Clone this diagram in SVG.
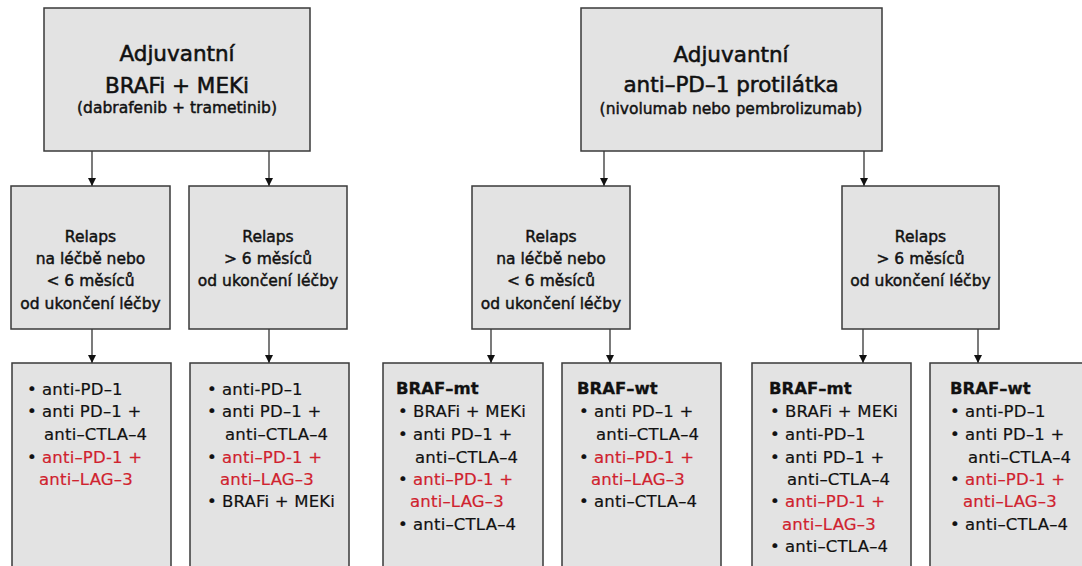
<svg xmlns="http://www.w3.org/2000/svg" width="1082" height="566" viewBox="0 0 1082 566">
<style>
.box{fill:#e3e3e3;stroke:#3a3a3a;stroke-width:1.5}
text{font-family:"DejaVu Sans","Liberation Sans",sans-serif;fill:#111}
.t1{font-size:21.5px;text-anchor:middle;stroke:#111;stroke-width:0.55}
.t2{font-size:15.5px;text-anchor:middle;stroke:#111;stroke-width:0.45}
.r2{font-size:15.5px;text-anchor:middle;stroke:#111;stroke-width:0.45}
.b{font-size:16.5px;stroke:#111;stroke-width:0.2;letter-spacing:0.2px}
.red{fill:#d0222e;stroke:#d0222e}
.h{font-size:16.5px;font-weight:bold;stroke:#111;stroke-width:0.3}
.conn{stroke:#222;stroke-width:1.2;fill:none}
</style>
<defs>
<marker id="ah" markerUnits="userSpaceOnUse" markerWidth="8" markerHeight="9" refX="8" refY="4" orient="auto" viewBox="0 0 8 8">
<path d="M0,0 L8,4 L0,8 z" fill="#111"/>
</marker>
</defs>

<g id="connectors">
<line class="conn" x1="92" y1="151" x2="92" y2="186" marker-end="url(#ah)"/>
<line class="conn" x1="269" y1="151" x2="269" y2="186" marker-end="url(#ah)"/>
<line class="conn" x1="604" y1="151" x2="604" y2="186" marker-end="url(#ah)"/>
<line class="conn" x1="864" y1="151" x2="864" y2="186" marker-end="url(#ah)"/>
<line class="conn" x1="92" y1="329" x2="92" y2="363" marker-end="url(#ah)"/>
<line class="conn" x1="269" y1="329" x2="269" y2="363" marker-end="url(#ah)"/>
<line class="conn" x1="491" y1="329" x2="491" y2="363" marker-end="url(#ah)"/>
<line class="conn" x1="610" y1="329" x2="610" y2="363" marker-end="url(#ah)"/>
<line class="conn" x1="863" y1="329" x2="863" y2="363" marker-end="url(#ah)"/>
<line class="conn" x1="978" y1="329" x2="978" y2="363" marker-end="url(#ah)"/>
</g>

<g id="top-left">
<rect class="box" x="44" y="8" width="266" height="143"/>
<text class="t1" x="177" y="61">Adjuvantní</text>
<text class="t1" x="177" y="93">BRAFi + MEKi</text>
<text class="t2" x="177" y="113">(dabrafenib + trametinib)</text>
</g>

<g id="top-right">
<rect class="box" x="581" y="8" width="301" height="143"/>
<text class="t1" x="731" y="62">Adjuvantní</text>
<text class="t1" x="731" y="92">anti–PD–1 protilátka</text>
<text class="t2" x="731" y="114">(nivolumab nebo pembrolizumab)</text>
</g>

<g id="relaps-1">
<rect class="box" x="11" y="186" width="159" height="143"/>
<text class="r2" x="90.5" y="242">Relaps</text>
<text class="r2" x="90.5" y="264">na léčbě nebo</text>
<text class="r2" x="90.5" y="286">&lt; 6 měsíců</text>
<text class="r2" x="90.5" y="309">od ukončení léčby</text>
</g>

<g id="relaps-2">
<rect class="box" x="189" y="186" width="158" height="143"/>
<text class="r2" x="268" y="242">Relaps</text>
<text class="r2" x="268" y="264">&gt; 6 měsíců</text>
<text class="r2" x="268" y="286">od ukončení léčby</text>
</g>

<g id="relaps-3">
<rect class="box" x="472" y="186" width="158" height="143"/>
<text class="r2" x="551" y="242">Relaps</text>
<text class="r2" x="551" y="264">na léčbě nebo</text>
<text class="r2" x="551" y="286">&lt; 6 měsíců</text>
<text class="r2" x="551" y="309">od ukončení léčby</text>
</g>

<g id="relaps-4">
<rect class="box" x="842" y="186" width="157" height="143"/>
<text class="r2" x="920.5" y="242">Relaps</text>
<text class="r2" x="920.5" y="264">&gt; 6 měsíců</text>
<text class="r2" x="920.5" y="286">od ukončení léčby</text>
</g>

<g id="therapy-a">
<rect class="box" x="12" y="363" width="159" height="220"/>
<text class="b" x="27" y="395">•</text><text class="b" x="42" y="395">anti-PD–1</text>
<text class="b" x="27" y="417">•</text><text class="b" x="42" y="417">anti PD–1 +</text>
<text class="b" x="44" y="440">anti–CTLA–4</text>
<text class="b" x="27" y="463">•</text><text class="b red" x="42" y="463">anti–PD-1 +</text>
<text class="b red" x="39" y="485">anti–LAG–3</text>
</g>

<g id="therapy-b">
<rect class="box" x="190" y="363" width="159" height="220"/>
<text class="b" x="207" y="395">•</text><text class="b" x="222" y="395">anti-PD–1</text>
<text class="b" x="207" y="417">•</text><text class="b" x="222" y="417">anti PD–1 +</text>
<text class="b" x="225" y="440">anti–CTLA–4</text>
<text class="b" x="207" y="463">•</text><text class="b red" x="222" y="463">anti–PD-1 +</text>
<text class="b red" x="220" y="485">anti–LAG–3</text>
<text class="b" x="207" y="507">•</text><text class="b" x="222" y="507">BRAFi + MEKi</text>
</g>

<g id="therapy-c">
<rect class="box" x="383" y="363" width="160" height="220"/>
<text class="h" x="396" y="394">BRAF–mt</text>
<text class="b" x="398" y="417">•</text><text class="b" x="413" y="417">BRAFi + MEKi</text>
<text class="b" x="398" y="440">•</text><text class="b" x="413" y="440">anti PD–1 +</text>
<text class="b" x="415" y="463">anti–CTLA–4</text>
<text class="b" x="398" y="485">•</text><text class="b red" x="413" y="485">anti–PD-1 +</text>
<text class="b red" x="410" y="507">anti–LAG–3</text>
<text class="b" x="398" y="530">•</text><text class="b" x="413" y="530">anti–CTLA–4</text>
</g>

<g id="therapy-d">
<rect class="box" x="562" y="363" width="159" height="220"/>
<text class="h" x="577" y="394">BRAF–wt</text>
<text class="b" x="579" y="417">•</text><text class="b" x="594" y="417">anti PD–1 +</text>
<text class="b" x="596" y="440">anti–CTLA–4</text>
<text class="b" x="579" y="463">•</text><text class="b red" x="594" y="463">anti–PD-1 +</text>
<text class="b red" x="591" y="485">anti–LAG–3</text>
<text class="b" x="579" y="507">•</text><text class="b" x="594" y="507">anti–CTLA–4</text>
</g>

<g id="therapy-e">
<rect class="box" x="752" y="363" width="159" height="220"/>
<text class="h" x="769" y="394">BRAF–mt</text>
<text class="b" x="770" y="417">•</text><text class="b" x="785" y="417">BRAFi + MEKi</text>
<text class="b" x="770" y="440">•</text><text class="b" x="785" y="440">anti-PD–1</text>
<text class="b" x="770" y="463">•</text><text class="b" x="785" y="463">anti PD–1 +</text>
<text class="b" x="787" y="485">anti–CTLA–4</text>
<text class="b" x="770" y="507">•</text><text class="b red" x="785" y="507">anti–PD-1 +</text>
<text class="b red" x="782" y="530">anti–LAG–3</text>
<text class="b" x="770" y="552">•</text><text class="b" x="785" y="552">anti–CTLA–4</text>
</g>

<g id="therapy-f">
<rect class="box" x="930" y="363" width="160" height="220"/>
<text class="h" x="950" y="394">BRAF–wt</text>
<text class="b" x="950" y="417">•</text><text class="b" x="965" y="417">anti-PD–1</text>
<text class="b" x="950" y="440">•</text><text class="b" x="965" y="440">anti PD–1 +</text>
<text class="b" x="968" y="463">anti–CTLA–4</text>
<text class="b" x="950" y="485">•</text><text class="b red" x="965" y="485">anti–PD-1 +</text>
<text class="b red" x="963" y="507">anti–LAG–3</text>
<text class="b" x="950" y="530">•</text><text class="b" x="965" y="530">anti–CTLA–4</text>
</g>
</svg>
